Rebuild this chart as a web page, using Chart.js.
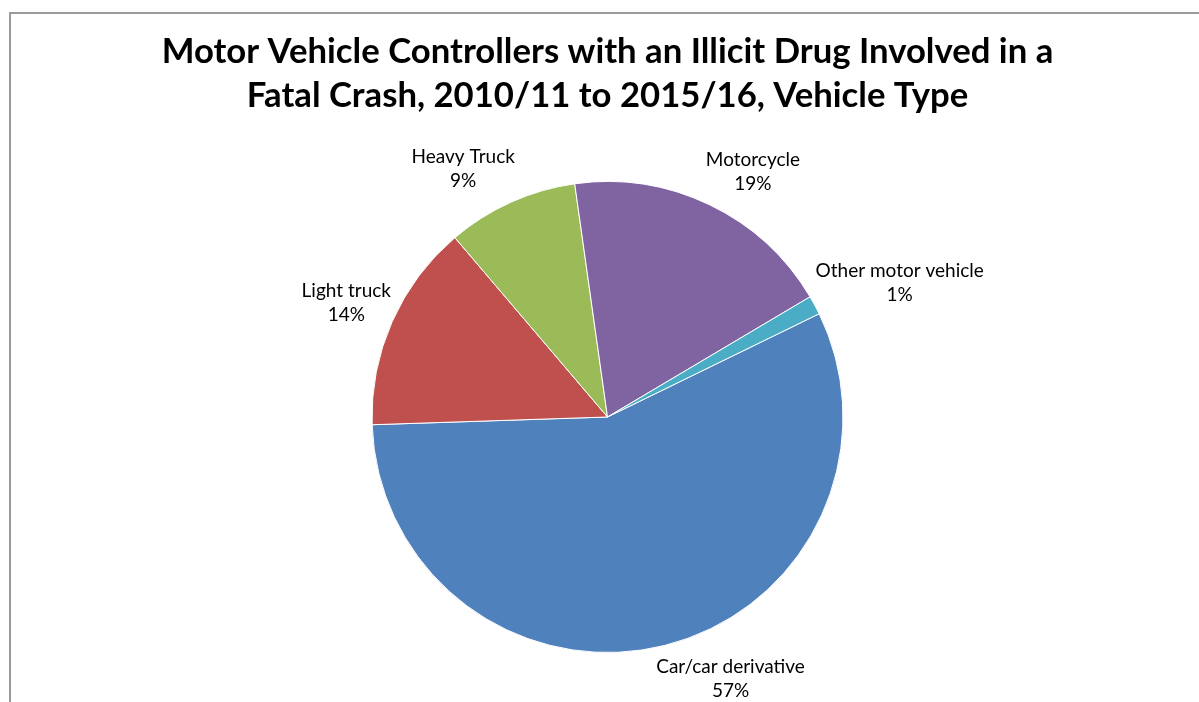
<!DOCTYPE html>
<html lang="en">
<head>
  <meta charset="UTF-8">
  <title>Vehicle Type</title>
  <script src="https://cdn.jsdelivr.net/npm/chart.js"></script>
  <style>
    html, body { margin: 0; padding: 0; background: #fff; }
    #wrap { width: 1199px; height: 702px; position: relative; }
  </style>
</head>
<body>
<div id="wrap"><canvas id="pieChart" width="1199" height="702"></canvas></div>

<script>
  // Vehicle types and share of controllers (%)
  const vehicleTypes = ["Car/car derivative", "Light truck", "Heavy Truck", "Motorcycle", "Other motor vehicle"];
  const shares = [56.7, 14.3, 9.0, 18.7, 1.3];
  const sliceColors = ["#4F81BD", "#C0504D", "#9BBB59", "#8064A2", "#4BACC6"];
  const titleLines = ["Motor Vehicle Controllers with an Illicit Drug Involved in a",
                      "Fatal Crash, 2010/11 to 2015/16, Vehicle Type"];

  // grey frame like the Excel chart area (left + top edge visible)
  const framePlugin = {
    id: 'frame',
    beforeDraw(chart) {
      const ctx = chart.ctx;
      ctx.save();
      ctx.strokeStyle = '#9a9a9a';
      ctx.lineWidth = 2;
      ctx.beginPath();
      ctx.moveTo(10, chart.height + 5);
      ctx.lineTo(10, 13);
      ctx.lineTo(chart.width + 5, 13);
      ctx.stroke();
      ctx.restore();
    }
  };

  // outside labels: "name" + "pct%", boxed against the slice's mid angle
  const outsideLabels = {
    id: 'outsideLabels',
    afterDatasetsDraw(chart) {
      const ctx = chart.ctx;
      const meta = chart.getDatasetMeta(0);
      const total = shares.reduce((a, b) => a + b, 0);
      const lineH = 24;
      ctx.save();
      ctx.font = '19px Lato';
      ctx.fillStyle = '#000';
      ctx.textAlign = 'center';
      ctx.textBaseline = 'middle';
      meta.data.forEach((arc, i) => {
        const p = arc.getProps(['x', 'y', 'startAngle', 'endAngle', 'outerRadius'], true);
        const mid = (p.startAngle + p.endAngle) / 2;
        const dx = Math.cos(mid), dy = Math.sin(mid);
        const r = p.outerRadius + 10;
        const px = p.x + dx * r, py = p.y + dy * r;
        const lines = [vehicleTypes[i], Math.round(shares[i] / total * 100) + '%'];
        const w = Math.max(...lines.map(t => ctx.measureText(t).width));
        const h = lineH * 2;
        const clamp = v => Math.max(-1, Math.min(1, v));
        const cx = px + (w / 2 - 8) * clamp(dx * 4);
        const cy = py + h / 2 * clamp(dy * 1.5);
        ctx.fillText(lines[0], cx, cy - lineH / 2);
        ctx.fillText(lines[1], cx, cy + lineH / 2);
      });
      ctx.restore();
    }
  };

  new Chart(document.getElementById('pieChart'), {
    type: 'pie',
    data: {
      labels: vehicleTypes,
      datasets: [{
        data: shares,
        backgroundColor: sliceColors,
        borderColor: '#ffffff',
        borderWidth: 1
      }]
    },
    options: {
      responsive: false,
      animation: false,
      rotation: 64,
      layout: { padding: { left: 16, right: 0, top: 0, bottom: 49 } },
      plugins: {
        legend: { display: false },
        tooltip: { enabled: false },
        title: {
          display: true,
          text: titleLines,
          color: '#000',
          font: { family: 'Lato', size: 34.7, weight: 'bold', lineHeight: 1.268 },
          padding: { top: 30, bottom: 63 }
        }
      }
    },
    plugins: [framePlugin, outsideLabels]
  });
</script>
</body>
</html>
